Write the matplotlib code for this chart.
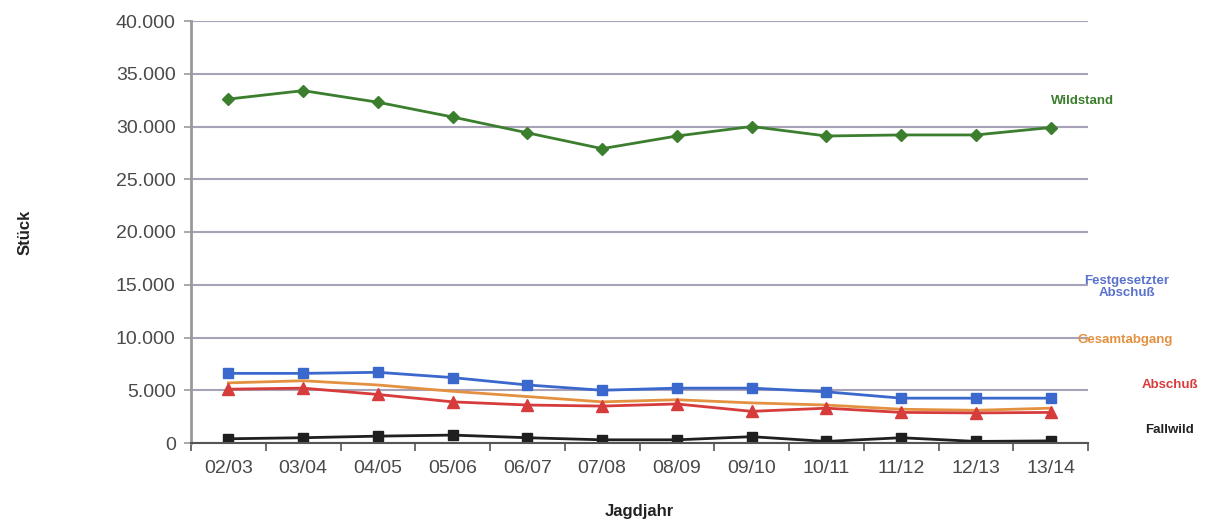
import matplotlib
matplotlib.use("Agg")
import matplotlib.pyplot as plt
from matplotlib.ticker import FuncFormatter, FixedLocator

plt.rcParams["font.family"] = ["Liberation Sans", "DejaVu Sans"]

jahre = ["02/03", "03/04", "04/05", "05/06", "06/07", "07/08",
         "08/09", "09/10", "10/11", "11/12", "12/13", "13/14"]
wildstand = [32600, 33400, 32300, 30900, 29400, 27900, 29100, 30000, 29100, 29200, 29200, 29900]
festgesetzt = [6600, 6600, 6700, 6200, 5500, 5000, 5200, 5200, 4850, 4250, 4250, 4250]
gesamtabgang = [5700, 5900, 5500, 4900, 4400, 3900, 4100, 3800, 3600, 3200, 3100, 3300]
abschuss = [5100, 5200, 4600, 3900, 3600, 3500, 3700, 3000, 3300, 2900, 2850, 2900]
fallwild = [400, 500, 650, 750, 500, 300, 300, 600, 150, 500, 150, 200]

fig = plt.figure(figsize=(12.06, 5.28), dpi=100)
ax = fig.add_axes([191 / 1206, 1 - 443 / 528, (1088 - 191) / 1206, (443 - 21) / 528])

x = list(range(len(jahre)))
ax.plot(x, wildstand, color="#3b7f2e", lw=2, marker="D", ms=6)
ax.plot(x, festgesetzt, color="#3a68cc", lw=2, marker="s", ms=7)
ax.plot(x, gesamtabgang, color="#e39140", lw=2)
ax.plot(x, abschuss, color="#d63c3c", lw=2, marker="^", ms=8)
ax.plot(x, fallwild, color="#1f1f1f", lw=2, marker="s", ms=7)

ax.set_xlim(-0.5, len(jahre) - 0.5)
ax.set_ylim(0, 40000)
ax.set_yticks(range(0, 40001, 5000))
ax.yaxis.set_major_formatter(FuncFormatter(lambda v, p: f"{int(v):,}".replace(",", ".")))
ax.set_xticks(x)
ax.set_xticklabels(jahre)
ax.xaxis.set_minor_locator(FixedLocator([i + 0.5 for i in range(-1, len(jahre))]))
ax.tick_params(axis="x", which="major", length=0, pad=12, labelsize=14, colors="#4a4a4a")
ax.tick_params(axis="x", which="minor", length=6, width=1.2, color="#555555")
ax.tick_params(axis="y", length=5, width=1.2, color="#999999", labelsize=14, labelcolor="#4a4a4a", pad=6)

ax.grid(axis="y", color="#a8a2b8", lw=1.5)
ax.set_axisbelow(True)
for s in ["top", "right"]:
    ax.spines[s].set_visible(False)
ax.spines["left"].set_color("#999999")
ax.spines["left"].set_linewidth(2)
ax.spines["bottom"].set_color("#555555")
ax.spines["bottom"].set_linewidth(1.5)

ax.set_ylabel("Stück", fontsize=12, fontweight="bold", color="#222222", labelpad=60)
ax.set_xlabel("Jagdjahr", fontsize=12, fontweight="bold", color="#222222", labelpad=20)

fig.text(1082 / 1206, 1 - 101 / 528, "Wildstand", color="#3b7f2e", fontsize=9.5, fontweight="bold", ha="center", va="center")
fig.text(1127 / 1206, 1 - 287 / 528, "Festgesetzter\nAbschuß", color="#5a72cc", fontsize=9.5, fontweight="bold", ha="center", va="center", linespacing=1.1)
fig.text(1125 / 1206, 1 - 340 / 528, "Gesamtabgang", color="#e39140", fontsize=9.5, fontweight="bold", ha="center", va="center")
fig.text(1170 / 1206, 1 - 385 / 528, "Abschuß", color="#d63c3c", fontsize=9.5, fontweight="bold", ha="center", va="center")
fig.text(1170 / 1206, 1 - 430 / 528, "Fallwild", color="#222222", fontsize=9.5, fontweight="bold", ha="center", va="center")

fig.savefig("out.png", dpi=100)
